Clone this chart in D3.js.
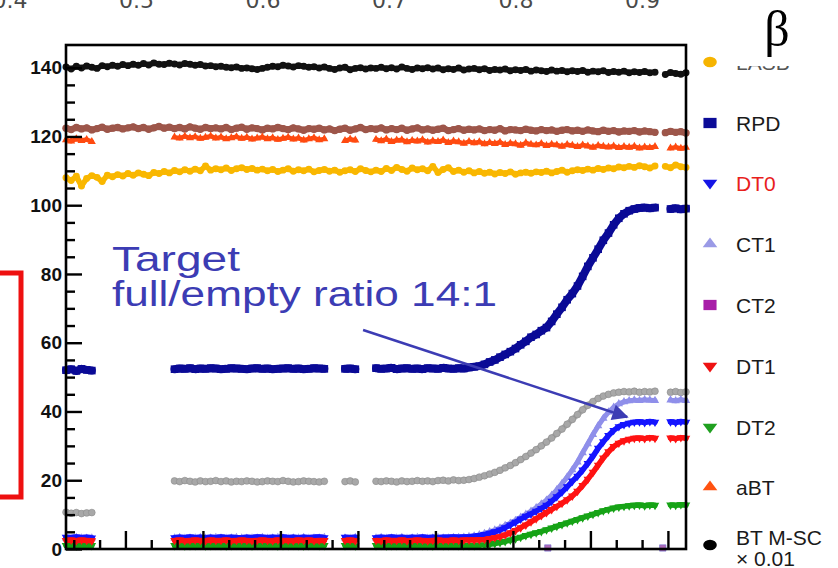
<!DOCTYPE html>
<html>
<head>
<meta charset="utf-8">
<script src="https://cdn.jsdelivr.net/npm/d3@7"></script>
<style>
  html, body { margin: 0; padding: 0; background: #fff; overflow: hidden; }
  svg { display: block; }
</style>
</head>
<body>
<svg id="chart" width="838" height="568"></svg>
<script>
// ---- sample times (run units) ----
const segA = [7, 9, 11, 13, 15, 17];
const segB = d3.range(49, 108, 2);
const segC = [115, 117, 119];
const segD = d3.range(127, 236, 2).concat([241, 243, 245, 247]);
const samplesGapped = segA.concat(segB, segC, segD);
const samplesFull = d3.range(7, 236, 2).concat([239, 241, 243, 245, 247]);

// ---- counting rates ----
const btMsc = [
  140.2,139.6,140.4,139.9,140.5,140.1,139.8,140.6,140.3,140.7,
  140.4,140.9,140.6,141.0,140.7,141.2,140.8,141.4,141.0,140.9,
  141.3,141.1,140.8,141.2,141.0,140.7,140.9,140.5,140.6,140.3,
  140.4,140.1,140.0,140.2,139.8,139.9,139.7,139.5,139.8,140.1,
  140.4,140.3,140.7,140.5,140.2,140.6,140.4,140.1,140.3,139.9,
  140.2,139.8,139.5,139.9,140.1,139.4,139.8,140.0,139.6,139.9,
  139.8,140.1,139.7,140.0,139.6,140.2,139.8,139.5,139.9,139.7,
  140.0,139.6,139.9,139.4,139.7,139.5,139.9,139.3,139.6,139.8,
  139.4,139.7,139.2,139.5,139.3,139.6,139.1,139.4,139.2,139.5,
  139.0,139.3,139.1,138.9,139.3,139.0,139.2,138.8,139.1,138.9,
  139.2,138.7,139.0,138.8,139.1,138.6,138.9,138.7,139.0,138.5,
  138.8,138.6,138.9,138.5,138.7,
  138.0,138.6,138.3,138.1,138.5
];
const brownRate = [
  122.4,122.0,122.6,122.2,122.5,121.9,122.3,122.7,122.1,122.4,
  122.6,122.2,122.5,122.8,122.3,122.6,122.1,122.5,122.9,122.4,
  122.7,122.3,122.6,122.2,122.8,122.4,122.1,122.6,122.3,122.5,
  122.2,122.6,122.0,122.4,122.7,122.1,122.5,122.3,121.9,122.4,
  122.2,122.6,122.3,122.0,122.5,122.2,121.8,122.3,122.1,122.4,
  121.9,122.2,121.7,122.1,122.4,121.8,122.2,122.6,122.0,122.3,
  122.1,122.5,121.9,122.3,122.0,122.4,121.8,122.2,122.5,121.9,
  122.2,121.8,122.1,122.4,121.7,122.0,122.3,121.8,122.1,121.9,
  122.2,121.7,122.0,121.8,122.3,121.6,122.0,121.9,121.7,122.1,
  121.8,121.6,122.0,121.7,121.9,121.5,121.8,122.0,121.6,121.8,
  121.5,121.9,121.6,121.4,121.8,121.5,121.7,121.3,121.6,121.5,
  121.7,121.3,121.6,121.4,121.2,
  121.1,121.5,121.2,121.4,121.0
];
const lasb = [
  108.0,107.2,108.4,105.6,107.8,108.6,108.1,106.9,108.7,108.3,
  108.9,108.5,109.2,108.7,109.4,109.0,108.6,109.5,109.2,109.8,
  109.4,110.1,109.7,110.3,109.9,110.5,110.0,111.4,110.2,110.6,
  110.3,110.8,110.1,110.6,110.9,110.4,110.7,110.2,110.5,110.0,
  110.4,109.8,110.2,110.6,109.9,110.3,110.0,110.5,109.7,110.1,
  110.4,109.9,110.2,109.6,110.0,110.3,109.8,110.6,110.1,109.7,
  110.2,109.8,110.7,110.1,111.0,110.4,109.9,110.8,110.3,110.6,
  110.0,111.3,109.5,110.4,110.9,109.8,110.2,109.6,110.0,109.4,
  109.8,109.3,109.6,109.1,109.5,109.2,109.7,109.0,109.4,109.6,
  109.3,109.7,109.5,109.9,109.4,109.8,110.2,109.6,110.0,110.3,
  110.1,110.5,110.2,110.7,110.4,110.8,110.6,111.1,110.9,111.3,
  111.0,111.5,111.2,110.8,111.4,
  111.3,110.9,111.7,111.2,111.0
];
const aBT = [
  119.0,118.6,119.3,118.8,119.1,118.5,
  119.8,119.5,120.0,119.6,119.9,119.4,119.7,120.1,119.5,119.8,
  119.3,119.6,119.9,119.4,119.7,119.2,119.5,119.8,119.3,119.6,
  119.1,119.4,119.7,119.2,119.5,118.9,119.3,119.6,119.0,119.3,
  118.8,119.2,118.9,
  119.1,118.7,119.2,118.5,118.9,119.0,118.4,118.8,118.6,119.0,
  118.3,118.7,118.5,118.9,118.2,118.6,118.4,118.0,
  118.5,118.1,118.4,117.8,118.2,117.9,118.3,117.6,118.0,117.8,
  117.4,118.1,117.7,117.5,117.9,117.3,117.7,117.5,117.1,117.6,
  117.4,117.0,117.5,117.2,116.8,117.3,117.1,116.9,117.2,116.7,
  117.0,116.8,117.1,116.6,116.9,116.7,117.0,
  116.6,116.9,116.5,116.8
];
const rpd = [
  52.0,52.3,51.8,52.4,52.1,51.9,
  52.3,52.5,52.4,52.6,52.3,52.5,52.4,52.6,52.5,52.3,
  52.4,52.6,52.5,52.4,52.3,52.5,52.6,52.4,52.5,52.3,
  52.4,52.5,52.6,52.4,52.5,52.3,52.4,52.6,52.5,52.4,
  52.4,52.5,52.3,
  52.6,52.4,52.5,52.7,52.3,52.5,52.6,52.4,52.5,52.3,
  52.6,52.5,52.4,52.7,52.5,52.4,52.6,52.5,
  52.8,53.0,53.2,53.7,54.4,55.0,55.8,56.6,57.4,58.3,
  59.4,60.4,61.6,62.4,63.5,64.4,66.2,68.3,70.3,72.5,
  74.3,76.5,79.3,82.2,84.7,87.2,89.8,91.9,94.3,96.2,
  97.5,98.4,98.9,99.2,99.3,99.1,99.3,
  98.9,99.1,98.8,99.0
];
const grayRate = [
  10.7,10.4,10.6,10.3,10.5,10.6,
  19.8,19.6,19.9,19.7,19.5,19.8,19.6,19.7,19.9,19.6,
  19.8,19.5,19.7,19.6,19.8,19.7,19.5,19.6,19.8,19.7,
  19.6,19.9,19.7,19.5,19.6,19.8,19.7,19.6,19.5,19.7,
  19.6,19.8,19.5,
  19.7,19.6,19.8,19.7,19.5,19.8,19.6,19.7,19.9,19.7,
  19.8,19.6,19.9,20.0,19.8,20.1,19.9,20.0,
  20.2,20.5,20.9,21.3,21.8,22.3,22.9,23.6,24.3,25.1,
  26.0,26.9,27.9,28.9,30.0,31.1,32.3,33.6,34.9,36.3,
  37.7,39.1,40.5,41.8,42.9,43.8,44.5,45.0,45.4,45.6,
  45.8,45.7,45.9,45.6,45.8,45.7,45.9,
  45.6,45.8,45.5,45.7
];
const ct1 = [
  3.2,3.1,3.3,3.2,3.1,3.2,
  3.2,3.3,3.1,3.2,3.2,3.3,3.1,3.2,3.3,3.2,
  3.1,3.2,3.3,3.2,3.1,3.2,3.2,3.3,3.1,3.2,
  3.3,3.2,3.1,3.2,3.2,3.3,3.1,3.2,3.2,3.3,
  3.2,3.1,3.3,
  3.2,3.3,3.1,3.2,3.2,3.3,3.1,3.2,3.3,3.2,
  3.1,3.2,3.3,3.2,3.2,3.3,3.3,3.4,
  3.6,3.8,4.1,4.5,5.0,5.5,6.1,6.8,7.5,8.3,
  9.2,10.1,11.0,12.0,13.1,14.2,15.6,17.2,19.0,20.9,
  23.0,25.3,28.0,30.6,33.3,35.8,38.0,39.8,41.2,42.2,
  42.8,43.1,43.3,43.2,43.4,43.3,43.2,
  43.3,43.1,43.4,43.2
];
const dt0 = [
  3.4,3.3,3.5,3.3,3.4,3.2,
  3.3,3.4,3.3,3.5,3.3,3.4,3.2,3.4,3.3,3.5,
  3.3,3.4,3.3,3.2,3.4,3.3,3.5,3.4,3.3,3.4,
  3.3,3.5,3.3,3.4,3.2,3.4,3.3,3.4,3.5,3.3,
  3.4,3.3,3.4,
  3.3,3.4,3.3,3.5,3.3,3.4,3.2,3.4,3.3,3.5,
  3.3,3.4,3.3,3.4,3.4,3.5,3.4,3.5,
  3.5,3.7,3.9,4.2,4.6,5.0,5.5,6.2,7.0,7.8,
  8.7,9.5,10.2,11.0,11.8,12.7,13.9,15.2,16.6,18.1,
  19.7,21.2,23.0,24.9,27.0,29.3,31.2,33.0,34.5,35.6,
  36.2,36.6,36.9,37.0,36.8,37.1,36.9,
  37.0,36.8,37.1,36.9
];
const dt1 = [
  2.5,2.6,2.4,2.6,2.5,2.4,
  2.5,2.6,2.4,2.5,2.6,2.5,2.4,2.6,2.5,2.5,
  2.6,2.4,2.5,2.6,2.5,2.4,2.5,2.6,2.5,2.4,
  2.6,2.5,2.5,2.4,2.6,2.5,2.6,2.4,2.5,2.5,
  2.5,2.6,2.4,
  2.5,2.4,2.6,2.5,2.5,2.6,2.4,2.5,2.6,2.5,
  2.4,2.5,2.6,2.5,2.5,2.6,2.5,2.6,
  2.6,2.6,2.7,2.8,3.0,3.3,3.6,4.1,4.7,5.4,
  6.2,7.0,7.9,8.8,9.7,10.6,11.5,12.4,13.3,14.3,
  15.4,16.8,18.5,20.3,22.3,24.4,26.5,28.3,29.8,30.8,
  31.5,31.9,32.2,32.3,32.1,32.4,32.2,
  32.3,32.1,32.4,32.2
];
const dt2 = [
  1.0,1.1,0.9,1.0,1.1,1.0,
  1.0,1.1,0.9,1.0,1.0,1.1,0.9,1.0,1.1,1.0,
  0.9,1.0,1.1,1.0,1.0,0.9,1.1,1.0,1.0,1.1,
  0.9,1.0,1.0,1.1,1.0,0.9,1.0,1.1,1.0,1.0,
  1.0,1.1,0.9,
  1.0,1.1,0.9,1.0,1.0,1.1,0.9,1.0,1.1,1.0,
  1.0,0.9,1.1,1.0,1.0,1.1,1.0,1.0,
  1.0,1.0,1.1,1.2,1.4,1.6,1.9,2.2,2.6,3.0,
  3.4,3.9,4.3,4.7,5.1,5.6,6.1,6.6,7.1,7.6,
  8.1,8.6,9.1,9.6,10.1,10.6,11.1,11.5,11.9,12.2,
  12.4,12.6,12.7,12.8,12.6,12.8,12.7,
  12.8,12.7,12.9,12.8
];
const ct2Samples = [193.5, 238];
const ct2 = [0.3, 0.3];

// ---- axis labels ----
const yMajorTicks = [0, 20, 40, 60, 80, 100, 120, 140];
const betaTicks = [0.4, 0.5, 0.6, 0.7, 0.8, 0.9];
const legendNames = ["LASB", "RPD", "DT0", "CT1", "CT2", "DT1", "DT2", "aBT", "BT M-SC"];
const annotationLines = ["Target", "full/empty ratio 14:1"];

// ---- layout ----
const svg = d3.select("#chart");
const plot = { left: 66, right: 686, top: 45, bottom: 549 };

const x = d3.scaleLinear().domain([7, 247]).range([plot.left, plot.right]);
const y = d3.scaleLinear().domain([0, 146.6]).range([plot.bottom, plot.top]);
const beta = d3.scaleLinear().domain([0.4, 0.9]).range([10, 642.5]);

// top label row, running off the top edge of the page
svg.append("g").selectAll("text").data(betaTicks).join("text")
  .attr("x", d => beta(d)).attr("y", 7.5)
  .attr("text-anchor", "middle")
  .attr("font-family", "DejaVu Sans, Verdana, sans-serif")
  .attr("font-size", 22).attr("fill", "#4a4a4a")
  .text(d => d.toFixed(1));

// highlight box at the left margin
svg.append("rect")
  .attr("x", -10).attr("y", 273).attr("width", 31).attr("height", 224)
  .attr("fill", "none").attr("stroke", "#ee1010").attr("stroke-width", 5);

// ---- series ----
const sym = (type, size) => d3.symbol().type(type).size(size)();
const series = [
  { xs: samplesFull,   ys: lasb,      type: d3.symbolCircle,   size: 38, color: "#f9b700", band: 5.5 },
  { xs: samplesFull,   ys: brownRate, type: d3.symbolCircle,   size: 42, color: "#9d564a", band: 6.5 },
  { xs: samplesGapped, ys: aBT,       type: d3.symbolTriangle, size: 28, color: "#ff4a10", band: 4.5 },
  { xs: samplesFull,   ys: btMsc,     type: d3.symbolCircle,   size: 38, color: "#111111", band: 5.5 },
  { xs: samplesGapped, ys: rpd,       type: d3.symbolSquare,   size: 58, color: "#0a0a96", band: 8 },
  { xs: samplesGapped, ys: grayRate,  type: d3.symbolCircle,   size: 36, color: "#a8a8a8", band: 5.5, stroke: "#8c8c8c" },
  { xs: samplesGapped, ys: ct1,       type: d3.symbolTriangle, size: 30, color: "#8f8fea", band: 5 },
  { xs: samplesGapped, ys: dt0,       type: d3.symbolTriangle, size: 32, color: "#1414ff", band: 5.5, flip: true },
  { xs: samplesGapped, ys: dt2,       type: d3.symbolTriangle, size: 32, color: "#16a316", band: 5.5, flip: true },
  { xs: samplesGapped, ys: dt1,       type: d3.symbolTriangle, size: 32, color: "#ff1212", band: 5.5, flip: true },
  { xs: ct2Samples,    ys: ct2,       type: d3.symbolSquare,   size: 40, color: "#b06ab8", band: 0, stroke: "#6a6ad0" }
];

// split a series into runs of consecutive samples
function runs(pts) {
  const out = [];
  let cur = [];
  pts.forEach((p, i) => {
    if (i > 0 && p[0] - pts[i - 1][0] > 2.5) { out.push(cur); cur = []; }
    cur.push(p);
  });
  if (cur.length) out.push(cur);
  return out;
}

const bandLine = d3.line().x(d => x(d[0])).y(d => y(d[1]));
const dataG = svg.append("g");
series.forEach(s => {
  const pts = d3.zip(s.xs, s.ys);
  const g = dataG.append("g");
  if (s.band > 0) {
    g.selectAll("path.band").data(runs(pts)).join("path")
      .attr("class", "band")
      .attr("d", bandLine)
      .attr("fill", "none")
      .attr("stroke", s.color)
      .attr("stroke-width", s.band)
      .attr("stroke-linecap", "round")
      .attr("stroke-linejoin", "round");
  }
  g.selectAll("path.pt").data(pts).join("path")
    .attr("class", "pt")
    .attr("d", sym(s.type, s.size))
    .attr("transform", d => `translate(${x(d[0])},${y(d[1])})` + (s.flip ? " rotate(180)" : ""))
    .attr("fill", s.color)
    .attr("stroke", s.stroke || "none")
    .attr("stroke-width", s.stroke ? 0.6 : 0);
});

// ---- frame and axes ----
svg.append("rect")
  .attr("x", plot.left).attr("y", plot.top)
  .attr("width", plot.right - plot.left).attr("height", plot.bottom - plot.top)
  .attr("fill", "none").attr("stroke", "#000").attr("stroke-width", 2.6);

const yMinor = d3.range(5, 145, 5).filter(v => v % 20 !== 0);
const axisStyle = g => {
  g.select(".domain").remove();
  g.selectAll("line").attr("stroke", "#000").attr("stroke-width", 2.4);
};
svg.append("g").attr("transform", `translate(${plot.left},0)`)
  .call(d3.axisRight(y).tickValues(yMajorTicks).tickSize(16).tickFormat(""))
  .call(axisStyle);
svg.append("g").attr("transform", `translate(${plot.left},0)`)
  .call(d3.axisRight(y).tickValues(yMinor).tickSize(9).tickFormat(""))
  .call(axisStyle);
const yLab = svg.append("g").attr("transform", `translate(${plot.left},0)`)
  .call(d3.axisLeft(y).tickValues(yMajorTicks).tickSize(0).tickPadding(4));
yLab.select(".domain").remove();
yLab.selectAll("text")
  .attr("font-family", "Liberation Sans, Arial, sans-serif")
  .attr("font-weight", "bold").attr("font-size", 19).attr("fill", "#111");

const xMajor = d3.range(30, 247, 30);
const xMinor = d3.range(10, 247, 10).filter(v => v % 30 !== 0);
svg.append("g").attr("transform", `translate(0,${plot.bottom})`)
  .call(d3.axisTop(x).tickValues(xMajor).tickSize(18).tickFormat(""))
  .call(axisStyle);
svg.append("g").attr("transform", `translate(0,${plot.bottom})`)
  .call(d3.axisTop(x).tickValues(xMinor).tickSize(9).tickFormat(""))
  .call(axisStyle);

// ---- annotation ----
const annColor = "#3c3cb4";
const ann = svg.append("g")
  .attr("font-family", "Liberation Sans, Arial, sans-serif")
  .attr("font-size", 35).attr("fill", annColor);
ann.append("text").attr("x", x(24.8)).attr("y", y(80.8))
  .attr("textLength", 128).attr("lengthAdjust", "spacingAndGlyphs")
  .text(annotationLines[0]);
ann.append("text").attr("x", x(24.8)).attr("y", y(70.6))
  .attr("textLength", 385).attr("lengthAdjust", "spacingAndGlyphs")
  .text(annotationLines[1]);

svg.append("defs").append("marker")
  .attr("id", "arrowHead").attr("viewBox", "0 0 10 10")
  .attr("refX", 9).attr("refY", 5)
  .attr("markerWidth", 8).attr("markerHeight", 6.5)
  .attr("markerUnits", "strokeWidth")
  .attr("orient", "auto")
  .append("path").attr("d", "M0,0 L10,5 L0,10 Z").attr("fill", annColor);

svg.append("line")
  .attr("x1", x(122)).attr("y1", y(63.7))
  .attr("x2", x(224.2)).attr("y2", y(38.4))
  .attr("stroke", annColor).attr("stroke-width", 2.5)
  .attr("marker-end", "url(#arrowHead)");

// ---- legend ----
const legendY = [62, 123, 183, 244, 305, 366, 427, 487, 545];
const legendSym = [
  { type: d3.symbolCircle, size: 110, color: "#f6b400" },
  { type: d3.symbolSquare, size: 130, color: "#0b0b98" },
  { type: d3.symbolTriangle, size: 70, color: "#1515e6", flip: true },
  { type: d3.symbolTriangle, size: 70, color: "#9a9ae6" },
  { type: d3.symbolSquare, size: 130, color: "#a81ea8" },
  { type: d3.symbolTriangle, size: 70, color: "#ee1212", flip: true },
  { type: d3.symbolTriangle, size: 70, color: "#20a020", flip: true },
  { type: d3.symbolTriangle, size: 70, color: "#ff5210" },
  { type: d3.symbolCircle, size: 110, color: "#000000" }
];
const legFont = "Liberation Sans, Arial, sans-serif";
const leg = svg.append("g");
legendNames.forEach((name, i) => {
  const s = legendSym[i];
  leg.append("path")
    .attr("d", sym(s.type, s.size))
    .attr("transform", `translate(710,${legendY[i]}) scale(1.15,0.9)` + (s.flip ? " rotate(180)" : ""))
    .attr("fill", s.color);
  const t = leg.append("text")
    .attr("x", 736)
    .attr("font-family", legFont)
    .attr("font-size", 21)
    .attr("fill", name === "DT0" ? "#e8201c" : (i === 0 ? "#555" : "#1a1a1a"));
  if (i === legendNames.length - 1) {
    t.attr("y", legendY[i]).text(name);
    leg.append("text").attr("x", 736).attr("y", legendY[i] + 21)
      .attr("font-family", legFont)
      .attr("font-size", 21).attr("fill", "#1a1a1a").text("\u00d7 0.01");
  } else {
    t.attr("y", legendY[i] + 7.5).text(name);
  }
});

// beta symbol on its own white patch
svg.append("rect").attr("x", 728).attr("y", 0).attr("width", 86).attr("height", 66).attr("fill", "#fff");
svg.append("text")
  .attr("x", 777).attr("y", 46)
  .attr("text-anchor", "middle")
  .attr("font-family", "Liberation Serif, Times New Roman, serif")
  .attr("font-size", 50).attr("fill", "#000")
  .text("\u03b2");
</script>
</body>
</html>
